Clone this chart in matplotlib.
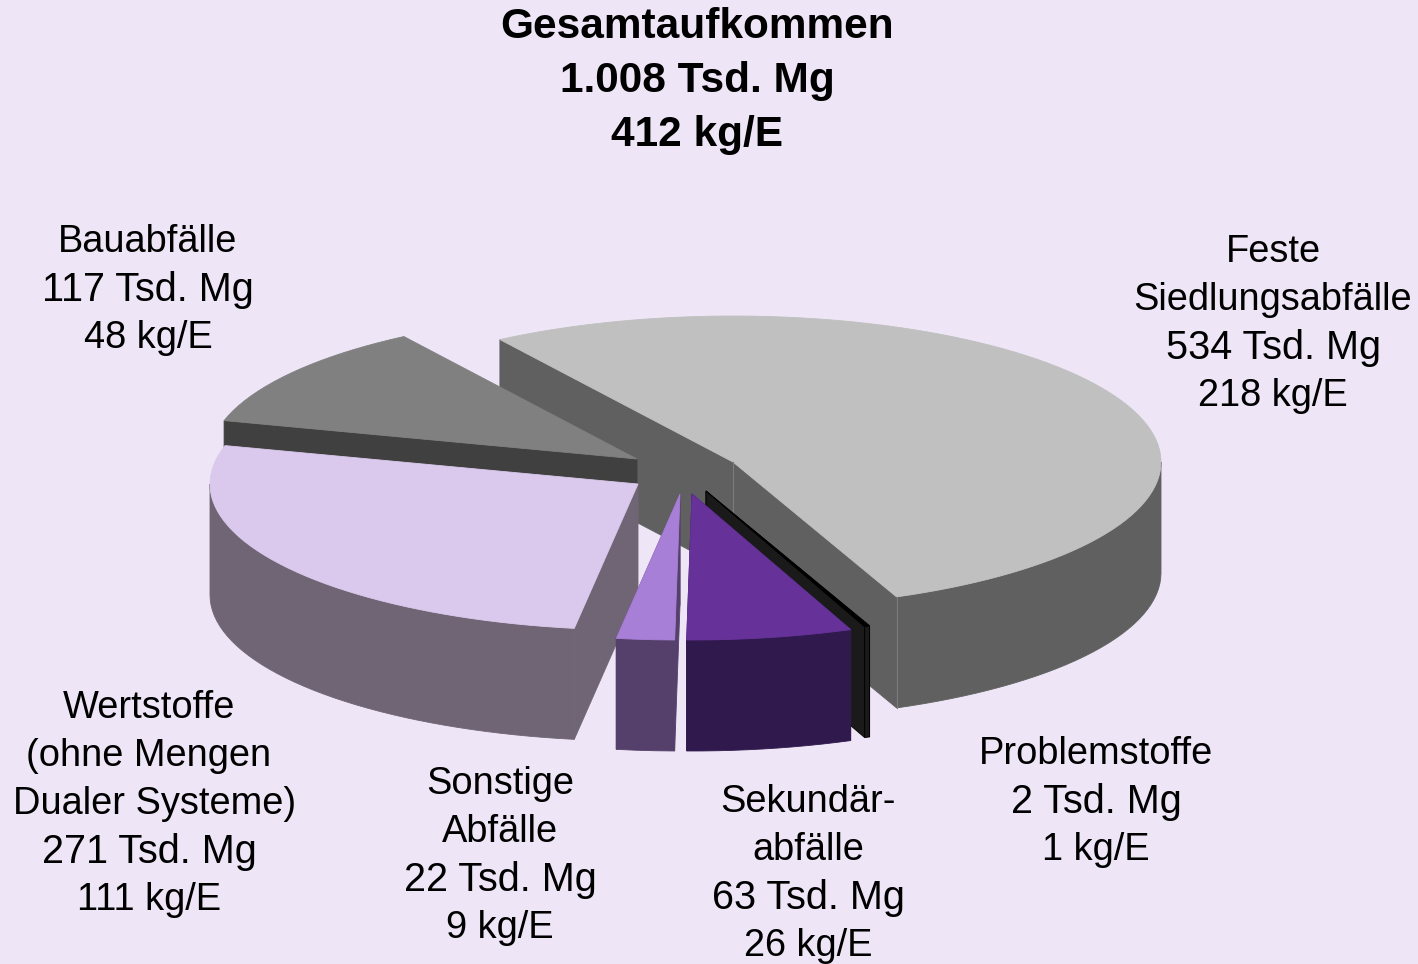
import numpy as np
import matplotlib
matplotlib.use("Agg")
import matplotlib.pyplot as plt
from matplotlib.patches import Polygon

# values in Tsd. Mg, clockwise from the back left
names = ["Feste Siedlungsabfaelle", "Problemstoffe", "Sekundaerabfaelle", "Sonstige", "Wertstoffe", "Bauabfaelle"]
values = [534, 2, 63, 22, 271, 117]

title_lines = ["Gesamtaufkommen", "1.008 Tsd. Mg", "412 kg/E"]
label_lines = [
    ["Feste", "Siedlungsabfälle", "534 Tsd. Mg", "218 kg/E"],
    ["Problemstoffe", "2 Tsd. Mg", "1 kg/E"],
    ["Sekundär-", "abfälle", "63 Tsd. Mg", "26 kg/E"],
    ["Sonstige", "Abfälle", "22 Tsd. Mg", "9 kg/E"],
    ["Wertstoffe", "(ohne Mengen", "Dualer Systeme)", "271 Tsd. Mg", "111 kg/E"],
    ["Bauabfälle", "117 Tsd. Mg", "48 kg/E"],
]

# layout, pixels of the 1418x964 picture
label_pos = [(1273, 252), (1096, 754), (808, 802), (500, 784), (149, 708), (148, 242)]
apex = [(733, 462), (706, 491), (692, 494), (680, 494), (638, 484), (637, 459)]
top_colors = ["#c0c0c0", "#000000", "#66329a", "#a87fd6", "#dac9ec", "#808080"]
side_colors = ["#606060", "#1a1a1a", "#301a4d", "#55406b", "#6f6575", "#404040"]
bg = "#eee6f6"
rx, ry, depth = 428, 146, 111
start = 123.0

plt.rcParams["font.family"] = ["Liberation Sans", "DejaVu Sans"]
fig = plt.figure(figsize=(14.18, 9.64), dpi=100, facecolor=bg)
ax = fig.add_axes([0, 0, 1, 1])
ax.set_xlim(0, 1418)
ax.set_ylim(964, 0)
ax.axis("off")


def arc(c, t0, t1, dy=0):
    t = np.radians(np.linspace(t0, t1, max(int(abs(t1 - t0) / 2), 2) + 1))
    return np.column_stack([c[0] + rx * np.cos(t), c[1] - ry * np.sin(t) + dy])


def fill(pts, color, edge=None, z=1):
    ec = edge if edge else color
    ax.add_patch(Polygon(pts, closed=True, fc=color, ec=ec, lw=0.6, zorder=z))


def cut_wall(c, t, color, edge=None, z=1):
    p = arc(c, t, t + 0.001)[0]
    fill([c, p, (p[0], p[1] + depth), (c[0], c[1] + depth)], color, edge, z)


# angles of every slice, same as a normal pie
angle = 360.0 * np.array(values) / sum(values)
ends = start - np.cumsum(angle)
starts = ends + angle

# back to front: feste, bau, werte, sonstige, problem, sekundaer
for i in [0, 5, 4, 3, 1, 2]:
    c = apex[i]
    t0, t1 = starts[i], ends[i]
    edge = "#000000" if i == 1 else None
    # wall on the clockwise end is the one seen for the back slices too
    cut_wall(c, t0, side_colors[i], edge)
    if i != 5 and i != 4:
        cut_wall(c, t1, side_colors[i], edge)
    # outer rim is only seen on the front half of the ellipse
    a, b = min(t0, 0), max(t1, -180)
    if a > b:
        fill(np.vstack([arc(c, a, b), arc(c, b, a, depth)]), side_colors[i], edge)
    fill(np.vstack([[c], arc(c, t0, t1)]), top_colors[i])
    if i == 0:
        p = arc(c, t1, t1 + 0.001)[0]
        ax.plot([c[0], c[0]], [c[1], c[1] + depth], color="#7c7c7c", lw=0.8, zorder=1)
        ax.plot([p[0], p[0]], [p[1], p[1] + depth], color="#7c7c7c", lw=0.8, zorder=1)

for k, line in enumerate(title_lines):
    ax.text(697, 27 + k * 54, line, ha="center", va="center", fontsize=30.5, fontweight="bold", color="black")

for pos, lines in zip(label_pos, label_lines):
    for k, line in enumerate(lines):
        # the Tsd. Mg lines run wider in the original
        size = 28.5 if "Tsd" in line else 27.4
        # this line sits off centre in the original
        dx = 6 if line.startswith("Dualer") else 0
        ax.text(pos[0] + dx, pos[1] + k * 48, line, ha="center", va="center", fontsize=size, color="black")

fig.savefig("out.png", dpi=100, facecolor=bg)
